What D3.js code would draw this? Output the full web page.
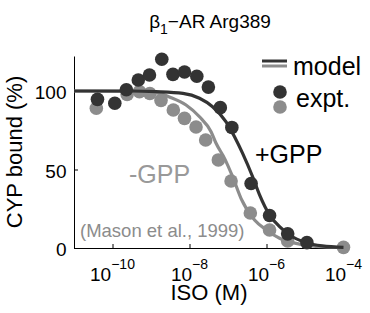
<!DOCTYPE html>
<html>
<head>
<meta charset="utf-8">
<script src="https://cdn.jsdelivr.net/npm/d3@7"></script>
<style>
  body { margin: 0; background: #fff; }
  svg text { font-family: "Liberation Sans", Arial, Helvetica, sans-serif; }
</style>
</head>
<body>
<svg id="chart" width="370" height="313"></svg>
<script>
// 数据：log10(ISO) 与 CYP 结合百分比
var logPlusExpt = [-10.39, -9.94, -9.64, -9.33, -9.04, -8.72, -8.43, -8.13, -7.81, -7.51, -7.20, -6.90, -6.40, -5.92, -5.45, -4.95];
var valPlusExpt = [94.7, 92.2, 100.8, 107.0, 110.2, 120.2, 110.6, 112.1, 109.4, 102.5, 89.4, 76.8, 41.1, 20.7, 9.0, 3.4];

var logMinusExpt = [-10.42, -9.62, -9.30, -9.03, -8.74, -8.42, -8.13, -7.83, -7.58, -7.25, -6.92, -6.42, -5.92, -5.45, -4.0];
var valMinusExpt = [89.0, 97.8, 99.6, 98.4, 94.0, 87.9, 82.6, 77.1, 68.8, 56.1, 42.7, 22.3, 11.5, 4.5, 0.4];

var logPlusModel = [-11, -9.5, -8.87, -8.17, -7.74, -7.40, -7.05, -6.83, -6.62, -6.36, -6.18, -5.92, -5.66, -5.40, -4.97, -4.55, -4.0];
var valPlusModel = [100, 100, 99.6, 98.5, 95.4, 90.0, 80.4, 70.9, 60.3, 45.4, 33.8, 21.0, 13.6, 8.3, 3.4, 1.3, 0.4];

var logMinusModel = [-11, -9.5, -9.04, -8.78, -8.52, -8.09, -7.74, -7.44, -7.31, -7.09, -6.88, -6.66, -6.31, -6.0, -5.66, -5.14, -4.54, -4.0];
var valMinusModel = [100, 99.8, 99.2, 98.5, 96.2, 91.1, 83.6, 74.1, 66.7, 57.1, 45.4, 31.5, 17.8, 11.5, 6.2, 2.5, 0.8, 0.4];

var xTickExp = [-10, -8, -6, -4];
var yTicks = [0, 50, 100];

var dark = "#333333", gray = "#8c8c8c";

var svg = d3.select("#chart");

var x = d3.scaleLog().domain([1e-11, 1e-4]).range([74, 343.5]);
var y = d3.scaleLinear().domain([0, 122.3]).range([248, 56]);

function pts(logs, vals) {
    return logs.map(function (d, i) { return [Math.pow(10, d), vals[i]]; });
}

//坐标轴
var xAxis = svg.append("g")
    .attr("transform", "translate(0,248)")
    .call(d3.axisBottom(x)
        .tickValues(xTickExp.map(function (e) { return Math.pow(10, e); }))
        .tickSizeInner(-4).tickSizeOuter(0)
        .tickFormat(""));
xAxis.select(".domain").attr("stroke", "#000");
xAxis.selectAll(".tick line").attr("stroke", "#000");

var yAxis = svg.append("g")
    .attr("transform", "translate(74,0)")
    .call(d3.axisLeft(y)
        .tickValues(yTicks)
        .tickSizeInner(-4).tickSizeOuter(0)
        .tickPadding(7.5));
yAxis.select(".domain").attr("stroke", "#000");
yAxis.selectAll(".tick line").attr("stroke", "#000");
yAxis.selectAll(".tick text")
    .attr("font-size", 19)
    .attr("fill", "#000")
    .attr("dy", "0.42em")
    .style("font-family", "'Liberation Sans', Arial, sans-serif");

//x轴刻度标签（10的幂）
var xl = svg.append("g").selectAll("text")
    .data(xTickExp)
    .join("text")
    .attr("x", function (d) { return x(Math.pow(10, d)); })
    .attr("y", 281)
    .attr("text-anchor", "middle")
    .attr("font-size", 19)
    .attr("fill", "#000");
xl.append("tspan").text("10");
xl.append("tspan")
    .attr("dy", -12)
    .attr("font-size", 14)
    .text(function (d) { return "\u2212" + Math.abs(d); });

//曲线
var line = d3.line()
    .x(function (d) { return x(d[0]); })
    .y(function (d) { return y(d[1]); })
    .curve(d3.curveMonotoneX);

svg.append("path")
    .datum(pts(logMinusModel, valMinusModel))
    .attr("d", line)
    .attr("fill", "none")
    .attr("stroke", gray)
    .attr("stroke-width", 3.2);

svg.append("g").selectAll("circle")
    .data(pts(logMinusExpt, valMinusExpt))
    .join("circle")
    .attr("cx", function (d) { return x(d[0]); })
    .attr("cy", function (d) { return y(d[1]); })
    .attr("r", 6.8)
    .attr("fill", gray);

svg.append("path")
    .datum(pts(logPlusModel, valPlusModel))
    .attr("d", line)
    .attr("fill", "none")
    .attr("stroke", dark)
    .attr("stroke-width", 3.2);

svg.append("g").selectAll("circle")
    .data(pts(logPlusExpt, valPlusExpt))
    .join("circle")
    .attr("cx", function (d) { return x(d[0]); })
    .attr("cy", function (d) { return y(d[1]); })
    .attr("r", 6.8)
    .attr("fill", dark);

//标题
var title = svg.append("text")
    .attr("x", 210)
    .attr("y", 28)
    .attr("text-anchor", "middle")
    .attr("font-size", 19)
    .attr("fill", "#000");
title.append("tspan").text("\u03b2");
title.append("tspan").attr("dy", 6).attr("font-size", 14).text("1");
title.append("tspan").attr("dy", -6).text("\u2212AR Arg389");

//轴标题
svg.append("text")
    .attr("x", 209)
    .attr("y", 300)
    .attr("text-anchor", "middle")
    .attr("font-size", 22)
    .attr("fill", "#000")
    .text("ISO (M)");

svg.append("text")
    .attr("transform", "translate(21.5,152) rotate(-90)")
    .attr("text-anchor", "middle")
    .attr("font-size", 22)
    .attr("fill", "#000")
    .text("CYP bound (%)");

//图例
var legend = svg.append("g");
legend.append("line")
    .attr("x1", 262).attr("x2", 287).attr("y1", 61).attr("y2", 61)
    .attr("stroke", dark).attr("stroke-width", 3);
legend.append("line")
    .attr("x1", 262).attr("x2", 287).attr("y1", 66).attr("y2", 66)
    .attr("stroke", gray).attr("stroke-width", 3);
legend.append("text")
    .attr("x", 293).attr("y", 75)
    .attr("font-size", 25).attr("fill", "#000")
    .text("model");
legend.append("circle").attr("cx", 280).attr("cy", 92).attr("r", 6.8).attr("fill", dark);
legend.append("circle").attr("cx", 280).attr("cy", 107).attr("r", 6.8).attr("fill", gray);
legend.append("text")
    .attr("x", 296).attr("y", 107)
    .attr("font-size", 25).attr("fill", "#000")
    .text("expt.");

//注释文字
svg.append("text")
    .attr("x", 255).attr("y", 163)
    .attr("font-size", 25).attr("fill", "#000")
    .text("+GPP");
svg.append("text")
    .attr("x", 129).attr("y", 183)
    .attr("font-size", 25).attr("fill", "#999")
    .text("-GPP");
svg.append("text")
    .attr("x", 80).attr("y", 237)
    .attr("font-size", 18.5).attr("fill", "#8c8c8c")
    .text("(Mason et al., 1999)");
</script>
</body>
</html>
